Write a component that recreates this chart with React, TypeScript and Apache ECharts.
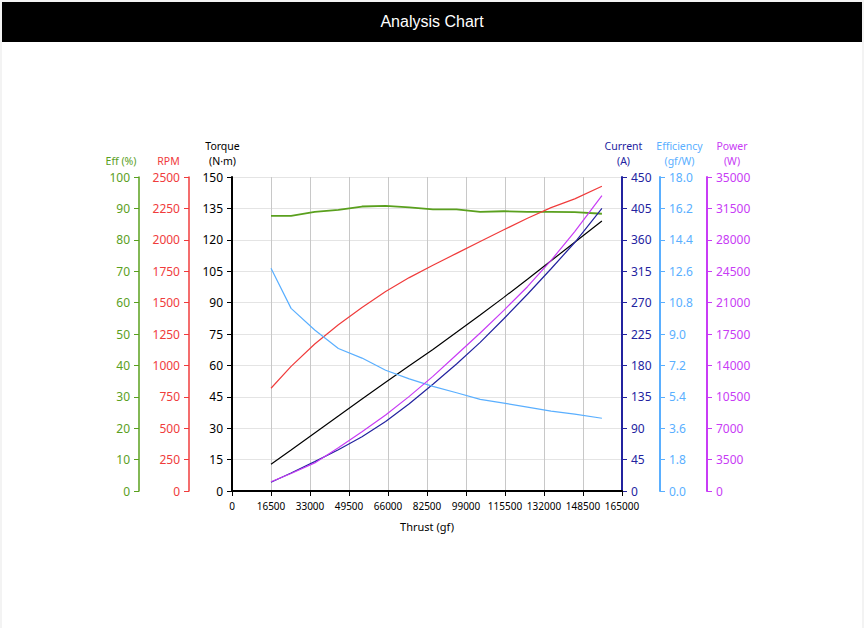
import React, { useEffect, useRef } from "react";
import * as echarts from "echarts";

const thrust = [16500, 25000, 35000, 45000, 55000, 65000, 75000, 85000, 95000, 105000, 115000, 125000, 135000, 145000, 156500];
const effPct = [87.6, 87.6, 88.9, 89.5, 90.6, 90.8, 90.3, 89.7, 89.7, 88.9, 89.1, 88.9, 88.9, 88.8, 88.3];
const rpm = [818, 992, 1170, 1324, 1461, 1588, 1699, 1798, 1892, 1986, 2080, 2171, 2256, 2326, 2427];
const torque = [12.75, 19.6, 27.7, 35.8, 43.9, 51.9, 59.8, 67.6, 75.8, 84.1, 92.5, 101.2, 110.0, 118.8, 129.0];
const current = [12.5, 25.9, 42.1, 59.0, 77.7, 99.5, 125.0, 153.0, 182.0, 213.0, 246.8, 282.0, 318.5, 356.1, 405.1];
const efficiency = [12.77, 10.47, 9.23, 8.17, 7.62, 6.92, 6.43, 6.0, 5.63, 5.25, 5.04, 4.81, 4.58, 4.41, 4.17];
const power = [1037, 1951, 3132, 4815, 6599, 8471, 10548, 12774, 15193, 17611, 20131, 22772, 25703, 28914, 32927];

const GREEN = "#5aa01e";
const RED = "#f03c3c";
const BLACK = "#000000";
const NAVY = "#23239f";
const LBLUE = "#5aafff";
const MAGENTA = "#c83cf5";
const FONT = "Noto Sans";

// axis title lines: [text, colour, centre x, centre y]
const axisTitles: [string, string, number, number][] = [
  ["Eff (%)", GREEN, 121, 161],
  ["RPM", RED, 168.5, 161],
  ["Torque", BLACK, 222.5, 146],
  ["(N·m)", BLACK, 222.5, 161],
  ["Current", NAVY, 623.5, 146],
  ["(A)", NAVY, 623.5, 161],
  ["Efficiency", LBLUE, 679.5, 146],
  ["(gf/W)", LBLUE, 679.5, 161],
  ["Power", MAGENTA, 732, 146],
  ["(W)", MAGENTA, 732, 161],
];

function pair(ys: number[]) {
  return thrust.map((x, i) => [x, ys[i]]);
}

const plain = (v: number) => String(v);

function yAx(opts: any) {
  const { color, min, max, interval, position, offset, fmt, lw, split } = opts;
  return {
    type: "value",
    position,
    offset,
    min,
    max,
    interval,
    axisLine: { show: true, onZero: false, lineStyle: { color, width: lw } },
    axisTick: { show: true, length: 5, lineStyle: { color, width: 1 } },
    axisLabel: { color, fontSize: 12, fontFamily: FONT, margin: 9, formatter: fmt || plain },
    splitLine: split ? { show: true, lineStyle: { color: "#e4e4e4", width: 1 } } : { show: false },
  };
}

export default function App() {
  const ref = useRef<HTMLDivElement>(null);
  useEffect(() => {
    document.body.style.margin = "0";
    const chart = echarts.init(ref.current!, undefined, { renderer: "svg" });
    const line = (name: string, data: number[], color: string, yAxisIndex: number, width = 1.2) => ({
      name,
      type: "line",
      data: pair(data),
      yAxisIndex,
      showSymbol: false,
      symbol: "none",
      smooth: false,
      lineStyle: { color, width },
      itemStyle: { color },
    });
    chart.setOption({
      animation: false,
      grid: { left: 232, right: 242, top: 177, bottom: 137 },
      graphic: axisTitles.map(([text, color, x, y]) => ({
        type: "text",
        x,
        y,
        silent: true,
        style: { text, fill: color, fontSize: 10.5, fontFamily: FONT, align: "center", verticalAlign: "middle" },
      })),
      xAxis: {
        type: "value",
        min: 0,
        max: 165000,
        interval: 16500,
        name: "Thrust (gf)",
        nameLocation: "middle",
        nameGap: 30,
        nameTextStyle: { color: "#000", fontSize: 11, fontFamily: FONT },
        axisLine: { show: true, onZero: false, lineStyle: { color: "#000", width: 2 } },
        axisTick: { show: true, length: 5, lineStyle: { color: "#000" } },
        axisLabel: { color: "#000", fontSize: 10, fontFamily: FONT, margin: 10, formatter: plain },
        splitLine: { show: true, lineStyle: { color: "#c8c8c8", width: 1 } },
      },
      yAxis: [
        yAx({ color: GREEN, min: 0, max: 100, interval: 10, position: "left", offset: 93, lw: 1.5 }),
        yAx({ color: RED, min: 0, max: 2500, interval: 250, position: "left", offset: 43, lw: 1.5 }),
        yAx({ color: BLACK, min: 0, max: 150, interval: 15, position: "left", offset: 0, lw: 2, split: true }),
        yAx({ color: NAVY, min: 0, max: 450, interval: 45, position: "right", offset: 0, lw: 2 }),
        yAx({ color: LBLUE, min: 0, max: 18, interval: 1.8, position: "right", offset: 38, lw: 2, fmt: (v: number) => v.toFixed(1) }),
        yAx({ color: MAGENTA, min: 0, max: 35000, interval: 3500, position: "right", offset: 85, lw: 2 }),
      ],
      series: [
        line("Eff", effPct, GREEN, 0, 1.8),
        line("RPM", rpm, RED, 1),
        line("Torque", torque, BLACK, 2),
        line("Current", current, NAVY, 3),
        line("Efficiency", efficiency, LBLUE, 4),
        line("Power", power, MAGENTA, 5),
      ],
    });
    return () => chart.dispose();
  }, []);
  return (
    <div style={{ position: "absolute", left: 0, top: 0, width: 864, height: 628, background: "#f3f3f3" }}>
      <div style={{ position: "absolute", left: 2, top: 2, width: 860, height: 626, background: "#fff" }} />
      <div ref={ref} style={{ position: "absolute", left: 0, top: 0, width: 864, height: 628 }} />
      <div
        style={{
          position: "absolute",
          left: 2,
          top: 2,
          width: 860,
          height: 40,
          background: "#000",
          color: "#fff",
          fontFamily: "'Liberation Sans', Arial, sans-serif",
          fontSize: 16,
          lineHeight: "40px",
          textAlign: "center",
        }}
      >
        Analysis Chart
      </div>
    </div>
  );
}
